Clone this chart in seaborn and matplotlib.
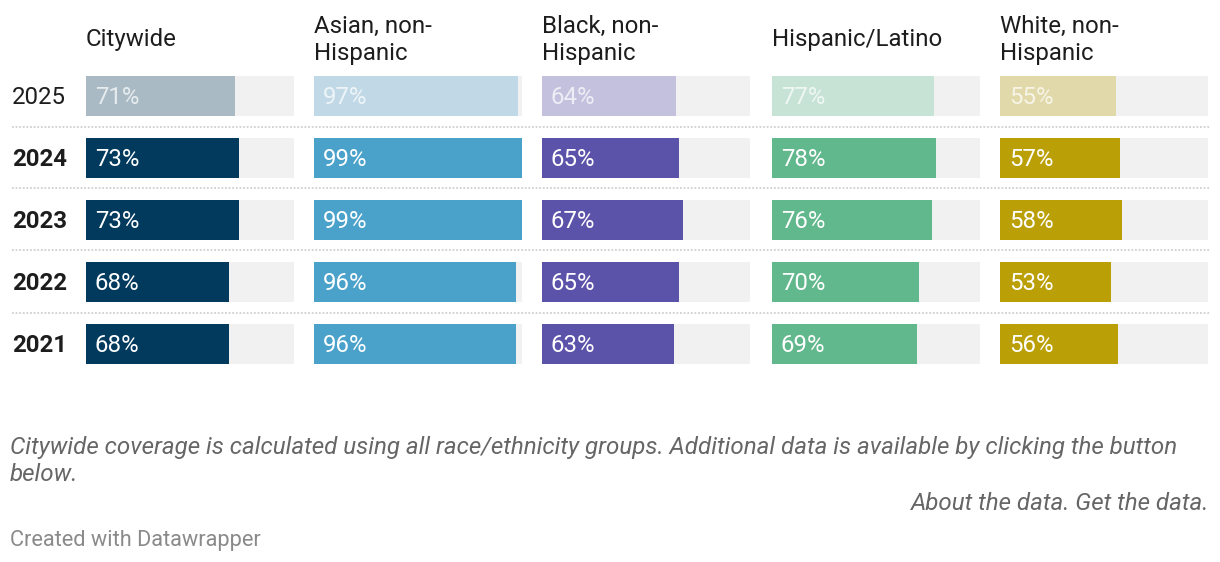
import matplotlib
matplotlib.use("Agg")
import matplotlib.pyplot as plt
import seaborn as sns
import pandas as pd

sns.set_theme(style="white")
plt.rcParams['font.family'] = ['Roboto', 'DejaVu Sans']

years = ["2025", "2024", "2023", "2022", "2021"]
groups = ["Citywide", "Asian, non-\nHispanic", "Black, non-\nHispanic", "Hispanic/Latino", "White, non-\nHispanic"]
citywide = [71, 73, 73, 68, 68]
asian = [97, 99, 99, 96, 96]
black = [64, 65, 67, 65, 63]
hispanic = [77, 78, 76, 70, 69]
white = [55, 57, 58, 53, 56]
series = [citywide, asian, black, hispanic, white]

colors = ["#023a5e", "#4aa2cb", "#5b52aa", "#62b88d", "#bb9f06"]
faded = ["#a9bac4", "#c1d9e6", "#c4c1de", "#c7e3d5", "#e1d9aa"]
track = "#f1f1f1"

W, H = 1220, 562
fig = plt.figure(figsize=(W / 100, H / 100), dpi=100)

col_x = [86, 314, 542, 772, 1000]
track_w = 208
row_h = 62
top = 65  # top of row 0 band
vmax = max(max(s) for s in series)
FS = 17.3
DY = 1.5  # small downward shift for centred text

for i, (name, vals) in enumerate(zip(groups, series)):
    ax = fig.add_axes([col_x[i] / W, 1 - (top + 5 * row_h) / H, track_w / W, 5 * row_h / H])
    df = pd.DataFrame({"year": years, "value": vals, "full": [vmax] * len(years)})
    sns.barplot(data=df, x="full", y="year", orient="h", color=track, width=40 / 62,
                saturation=1, ax=ax, order=years)
    pal = {y: (faded[i] if j == 0 else colors[i]) for j, y in enumerate(years)}
    sns.barplot(data=df, x="value", y="year", hue="year", palette=pal, orient="h",
                width=40 / 62, saturation=1, ax=ax, order=years, legend=False, dodge=False)
    for p in ax.patches:
        p.set_edgecolor("none")
        p.set_linewidth(0)
    ax.set_xlim(0, vmax)
    ax.set_ylim(4.5, -0.5)
    ax.axis("off")
    for j, v in enumerate(vals):
        ax.text(vmax * 9 / track_w, j + DY / row_h, f"{v}%", va="center", ha="left", fontsize=FS,
                color=("white" if j > 0 else (1, 1, 1, 0.72)))
    # header
    lines = name.split("\n")
    if len(lines) == 1:
        fig.text(col_x[i] / W, 1 - (38 + DY) / H, name, fontsize=FS, color="#1d1d1d", va="center", ha="left")
    else:
        fig.text(col_x[i] / W, 1 - (25 + DY) / H, lines[0], fontsize=FS, color="#1d1d1d", va="center", ha="left")
        fig.text(col_x[i] / W, 1 - (52 + DY) / H, lines[1], fontsize=FS, color="#1d1d1d", va="center", ha="left")

# year labels
for j, y in enumerate(years):
    cy = top + row_h * j + row_h / 2 + DY
    fig.text(12 / W, 1 - cy / H, y, fontsize=FS, color="#1d1d1d", va="center", ha="left",
             fontweight=("normal" if j == 0 else "bold"))

# dotted separators
for j in range(1, 5):
    yy = 1 - (top + row_h * j - 0.5) / H
    fig.add_artist(plt.Line2D([12 / W, 1210 / W], [yy, yy], color="#d0d0d0", lw=1.3,
                              linestyle=(0, (1.0, 1.0)), transform=fig.transFigure))

FN = 17.4
fig.text(10 / W, 1 - (446 + DY) / H,
         "Citywide coverage is calculated using all race/ethnicity groups. Additional data is available by clicking the button",
         fontsize=FN, style="italic", color="#666666", va="center", ha="left")
fig.text(10 / W, 1 - (473 + DY) / H, "below.", fontsize=FN, style="italic", color="#666666", va="center", ha="left")
fig.text(1209 / W, 1 - (502 + DY) / H, "About the data. Get the data.", fontsize=FN, style="italic",
         color="#666666", va="center", ha="right")
fig.text(10 / W, 1 - (539 + DY) / H, "Created with Datawrapper", fontsize=15.7, color="#8a8a8a", va="center", ha="left")

fig.savefig("out.png", dpi=100)
